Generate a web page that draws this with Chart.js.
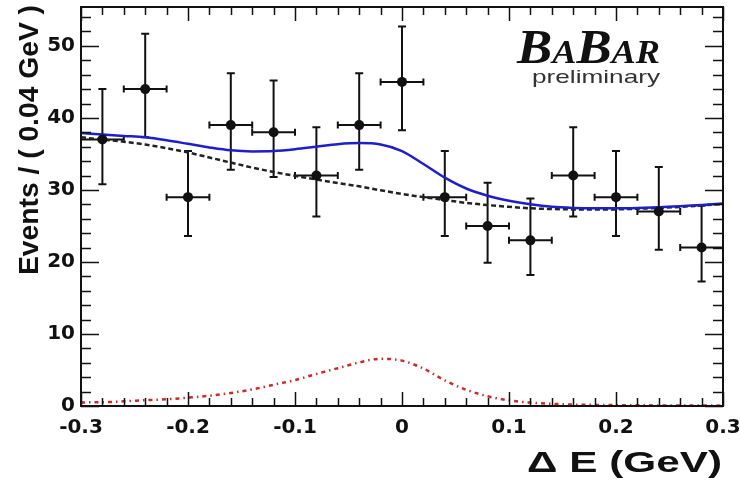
<!DOCTYPE html>
<html>
<head>
<meta charset="utf-8">
<script src="https://cdn.jsdelivr.net/npm/chart.js@4.4.1/dist/chart.umd.min.js"></script>
<style>
  html, body { margin: 0; padding: 0; background: #ffffff; }
  canvas { display: block; }
</style>
</head>
<body>
<canvas id="deltaE" width="740" height="484"></canvas>
<script>
// measured bins (bin width 0.04 GeV)
const binCenters = [-0.28, -0.24, -0.2, -0.16, -0.12, -0.08, -0.04, 0, 0.04, 0.08, 0.12, 0.16, 0.2, 0.24, 0.28];
const binCounts = [37, 44, 29, 39, 38, 32, 39, 45, 29, 25, 23, 32, 29, 27, 22];
const errHigh = [44.0, 51.7, 35.4, 46.2, 45.2, 38.7, 46.2, 52.7, 35.4, 31.0, 28.8, 38.7, 35.4, 33.2, 27.8];
const errLow = [30.8, 37.3, 23.6, 32.8, 31.8, 26.3, 32.8, 38.3, 23.6, 19.9, 18.2, 26.3, 23.6, 21.7, 17.3];
const binHalfWidth = 0.02;

// fit curves, every 0.02 GeV
const curveX = [
  -0.3, -0.28, -0.26, -0.24, -0.22, -0.2, -0.18, -0.16, -0.14, -0.12, -0.1,
  -0.08, -0.06, -0.04, -0.02, 0, 0.02, 0.04, 0.06, 0.08, 0.1,
  0.12, 0.14, 0.16, 0.18, 0.2, 0.22, 0.24, 0.26, 0.28, 0.3,
];
const totalFit = [
  37.9, 37.7, 37.5, 37.3, 36.9, 36.4, 35.9, 35.5, 35.35, 35.4, 35.65,
  36.0, 36.35, 36.5, 36.3, 35.4, 33.6, 31.7, 30.2, 29.2, 28.5,
  28.0, 27.65, 27.5, 27.45, 27.45, 27.5, 27.6, 27.75, 27.9, 28.1,
];
const backgroundFit = [
  37.3, 37.0, 36.7, 36.3, 35.8, 35.2, 34.5, 33.8, 33.1, 32.5, 31.95,
  31.45, 30.95, 30.5, 29.95, 29.45, 29.0, 28.6, 28.2, 27.9, 27.65,
  27.45, 27.35, 27.3, 27.3, 27.3, 27.4, 27.5, 27.65, 27.85, 28.05,
];
const signalFit = [
  0.5, 0.52, 0.65, 0.8, 0.93, 1.15, 1.42, 1.8, 2.3, 2.95, 3.6,
  4.45, 5.25, 6.05, 6.55, 6.3, 5.2, 3.55, 2.25, 1.35, 0.78,
  0.47, 0.3, 0.2, 0.15, 0.12, 0.1, 0.08, 0.07, 0.06, 0.05,
];

const xRange = [-0.3, 0.3];
const yRange = [0, 55.4];

const colors = {
  ink: "#111111",
  total: "#1f1fc8",
  background: "#222222",
  signal: "#cc2a2a",
  logoSub: "#333333",
};

function toPoints(xs, ys) {
  return xs.map((x, i) => ({ x, y: ys[i] }));
}

function fitText(ctx, text, x, y, width) {
  const measured = ctx.measureText(text).width;
  ctx.save();
  ctx.translate(x, y);
  ctx.scale(width / measured, 1);
  ctx.textAlign = "left";
  ctx.fillText(text, 0, 0);
  ctx.restore();
}

const errorBarPlugin = {
  id: "errorBars",
  beforeDatasetsDraw(chart) {
    const { ctx, scales } = chart;
    const xs = scales.x;
    const ys = scales.y;
    ctx.save();
    ctx.strokeStyle = colors.ink;
    ctx.lineWidth = 2;
    ctx.beginPath();
    binCenters.forEach((cx, i) => {
      const px = xs.getPixelForValue(cx);
      const py = ys.getPixelForValue(binCounts[i]);
      const top = ys.getPixelForValue(errHigh[i]);
      const bottom = ys.getPixelForValue(errLow[i]);
      const left = xs.getPixelForValue(cx - binHalfWidth);
      const right = xs.getPixelForValue(cx + binHalfWidth);
      ctx.moveTo(px, top);
      ctx.lineTo(px, bottom);
      ctx.moveTo(px - 4, top);
      ctx.lineTo(px + 4, top);
      ctx.moveTo(px - 4, bottom);
      ctx.lineTo(px + 4, bottom);
      ctx.moveTo(left, py);
      ctx.lineTo(right, py);
      ctx.moveTo(left, py - 3.5);
      ctx.lineTo(left, py + 3.5);
      ctx.moveTo(right, py - 3.5);
      ctx.lineTo(right, py + 3.5);
    });
    ctx.stroke();
    ctx.restore();
  },
};

const framePlugin = {
  id: "rootFrame",
  afterDraw(chart) {
    const { ctx, chartArea, scales } = chart;
    const { left, right, top, bottom } = chartArea;
    ctx.save();
    ctx.strokeStyle = colors.ink;
    ctx.lineWidth = 2;
    ctx.strokeRect(left, top, right - left, bottom - top);

    // inward ticks, ROOT style
    ctx.lineWidth = 1.5;
    ctx.beginPath();
    for (let i = 0; i <= 30; i++) {
      const v = xRange[0] + i * 0.02;
      const px = Math.round(scales.x.getPixelForValue(v)) + 0.5;
      const len = i % 5 === 0 ? 14 : 8;
      ctx.moveTo(px, bottom);
      ctx.lineTo(px, bottom - len);
      ctx.moveTo(px, top);
      ctx.lineTo(px, top + len);
    }
    for (let v = 0; v <= yRange[1]; v += 2) {
      const py = Math.round(scales.y.getPixelForValue(v)) + 0.5;
      const len = v % 10 === 0 ? 18 : 10;
      ctx.moveTo(left, py);
      ctx.lineTo(left + len, py);
      ctx.moveTo(right, py);
      ctx.lineTo(right - len, py);
    }
    ctx.stroke();

    // axis titles
    ctx.fillStyle = colors.ink;
    ctx.textBaseline = "alphabetic";
    ctx.font = "bold 30px 'Liberation Sans', Arial, sans-serif";
    fitText(ctx, "\u0394 E (GeV)", 527, 472, 195);

    ctx.save();
    ctx.translate(38, 275);
    ctx.rotate(-Math.PI / 2);
    ctx.font = "bold 28px 'Liberation Sans', Arial, sans-serif";
    fitText(ctx, "Events / ( 0.04 GeV )", 0, 0, 270);
    ctx.restore();

    // experiment logo
    const pieces = [
      ["B", 48], ["A", 33], ["B", 48], ["A", 33], ["R", 33],
    ];
    let total = 0;
    pieces.forEach(([ch, size]) => {
      ctx.font = `italic bold ${size}px 'Liberation Serif', 'Times New Roman', serif`;
      total += ctx.measureText(ch).width;
    });
    const stretch = 143 / total;
    let cursor = 517;
    pieces.forEach(([ch, size]) => {
      ctx.font = `italic bold ${size}px 'Liberation Serif', 'Times New Roman', serif`;
      const w = ctx.measureText(ch).width * stretch;
      fitText(ctx, ch, cursor, 63, w);
      cursor += w;
    });

    ctx.fillStyle = colors.logoSub;
    ctx.font = "19px 'Liberation Sans', Arial, sans-serif";
    fitText(ctx, "preliminary", 532, 83, 128);
    ctx.restore();
  },
};

new Chart(document.getElementById("deltaE"), {
  type: "scatter",
  plugins: [errorBarPlugin, framePlugin],
  data: {
    datasets: [
      {
        label: "data",
        data: toPoints(binCenters, binCounts),
        pointRadius: 5,
        pointHoverRadius: 5,
        backgroundColor: colors.ink,
        borderWidth: 0,
        order: 0,
      },
      {
        type: "line",
        label: "total",
        data: toPoints(curveX, totalFit),
        borderColor: colors.total,
        borderWidth: 2.5,
        pointRadius: 0,
        cubicInterpolationMode: "monotone",
        fill: false,
        order: 1,
      },
      {
        type: "line",
        label: "background",
        data: toPoints(curveX, backgroundFit),
        borderColor: colors.background,
        borderWidth: 2.5,
        borderDash: [5, 3],
        pointRadius: 0,
        cubicInterpolationMode: "monotone",
        fill: false,
        order: 2,
      },
      {
        type: "line",
        label: "signal",
        data: toPoints(curveX, signalFit),
        borderColor: colors.signal,
        borderWidth: 2.5,
        borderDash: [4, 4, 1.5, 4],
        pointRadius: 0,
        cubicInterpolationMode: "monotone",
        fill: false,
        order: 3,
      },
    ],
  },
  options: {
    responsive: false,
    animation: false,
    layout: { padding: { top: 7, right: 17, left: 0, bottom: 0 } },
    plugins: {
      legend: { display: false },
      tooltip: { enabled: false },
    },
    scales: {
      x: {
        type: "linear",
        min: xRange[0],
        max: xRange[1],
        grid: { display: false, drawTicks: false },
        border: { display: false },
        ticks: {
          stepSize: 0.1,
          padding: 10,
          color: colors.ink,
          maxRotation: 0,
          font: { family: "'DejaVu Sans', sans-serif", weight: "bold", size: 20 },
          callback: (v) => String(Math.round(v * 10) / 10),
        },
        afterFit: (scale) => {
          scale.height = 78;
          scale.paddingLeft = 0;
          scale.paddingRight = 0;
        },
      },
      y: {
        type: "linear",
        min: yRange[0],
        max: yRange[1],
        grid: { display: false, drawTicks: false },
        border: { display: false },
        ticks: {
          stepSize: 10,
          padding: 6,
          color: colors.ink,
          font: { family: "'DejaVu Sans', sans-serif", weight: "bold", size: 20 },
        },
        afterBuildTicks: (scale) => {
          scale.ticks = scale.ticks.filter((t) => Math.abs(t.value % 10) < 1e-9);
        },
        afterFit: (scale) => {
          scale.width = 81;
          scale.paddingTop = 0;
          scale.paddingBottom = 0;
        },
      },
    },
  },
});
</script>
</body>
</html>
